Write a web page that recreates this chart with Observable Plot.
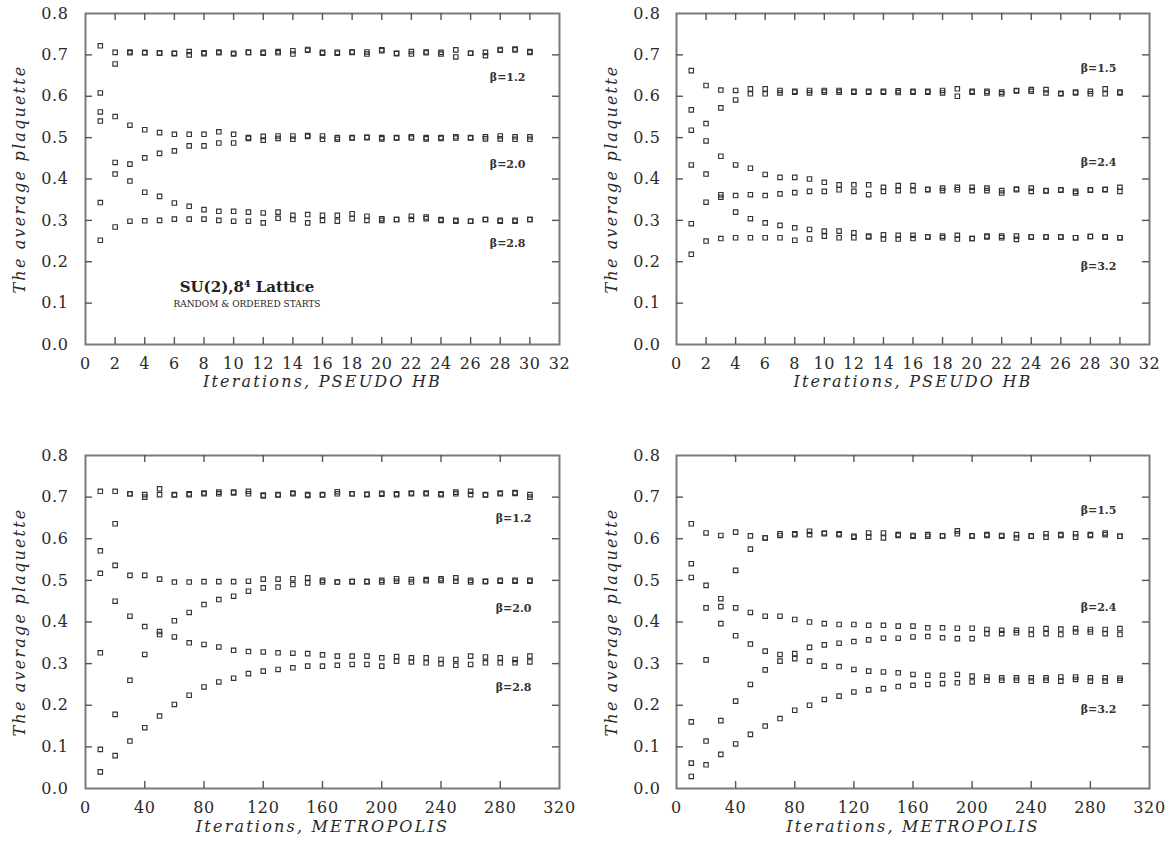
<!DOCTYPE html>
<html>
<head>
<meta charset="utf-8">
<script src="https://cdn.jsdelivr.net/npm/d3@7"></script>
<script src="https://cdn.jsdelivr.net/npm/@observablehq/plot@0.6"></script>
<style>
  html, body { margin: 0; padding: 0; background: #fff; }
  #wrap { position: relative; width: 1174px; height: 846px; background: #fff; }
  .panel { position: absolute; }
  g[aria-label="x-axis tick label"] text, g[aria-label="y-axis tick label"] text { letter-spacing: 0.6px; }
</style>
</head>
<body>
<div id="wrap"></div>
<script>
// ---------- iterations ----------
const hbIter = [1,2,3,4,5,6,7,8,9,10,11,12,13,14,15,16,17,18,19,20,21,22,23,24,25,26,27,28,29,30];
const metIter = [10,20,30,40,50,60,70,80,90,100,110,120,130,140,150,160,170,180,190,200,210,220,230,240,250,260,270,280,290,300];

// ---------- tick labels ----------
const hbTicks = [0,2,4,6,8,10,12,14,16,18,20,22,24,26,28,30,32];
const metTicks = [0,40,80,120,160,200,240,280,320];
const yTicks = [0,0.1,0.2,0.3,0.4,0.5,0.6,0.7,0.8];

// ---------- pseudo heat-bath, beta = 1.2 / 2.0 / 2.8 ----------
const hbA_b12_ord  = [0.722,0.706,0.707,0.706,0.705,0.703,0.708,0.703,0.705,0.702,0.706,0.706,0.708,0.710,0.713,0.706,0.706,0.707,0.702,0.712,0.703,0.708,0.707,0.706,0.712,0.704,0.706,0.713,0.714,0.708];
const hbA_b12_rand = [0.608,0.678,0.705,0.705,0.704,0.704,0.700,0.705,0.707,0.704,0.706,0.704,0.705,0.702,0.711,0.704,0.704,0.706,0.707,0.710,0.704,0.702,0.705,0.702,0.695,0.704,0.698,0.711,0.712,0.706];
const hbA_b20_ord  = [0.562,0.551,0.530,0.519,0.512,0.508,0.508,0.508,0.514,0.508,0.500,0.503,0.504,0.504,0.505,0.504,0.500,0.500,0.500,0.497,0.500,0.499,0.497,0.500,0.502,0.500,0.502,0.504,0.502,0.502];
const hbA_b20_rand = [0.343,0.440,0.436,0.451,0.462,0.468,0.480,0.480,0.487,0.487,0.498,0.494,0.498,0.496,0.503,0.496,0.496,0.499,0.501,0.500,0.499,0.502,0.500,0.498,0.499,0.499,0.497,0.497,0.496,0.496];
const hbA_b28_ord  = [0.540,0.412,0.395,0.368,0.358,0.342,0.334,0.326,0.322,0.322,0.320,0.318,0.320,0.312,0.314,0.312,0.312,0.316,0.310,0.304,0.302,0.310,0.308,0.302,0.300,0.298,0.302,0.300,0.300,0.302];
const hbA_b28_rand = [0.252,0.284,0.298,0.299,0.300,0.303,0.303,0.303,0.300,0.298,0.298,0.294,0.305,0.302,0.294,0.300,0.298,0.304,0.300,0.300,0.302,0.302,0.304,0.300,0.298,0.298,0.302,0.298,0.298,0.302];

// ---------- pseudo heat-bath, beta = 1.5 / 2.4 / 3.2 ----------
const hbB_b15_ord  = [0.662,0.626,0.615,0.614,0.618,0.618,0.614,0.612,0.614,0.614,0.614,0.612,0.612,0.612,0.613,0.612,0.612,0.614,0.618,0.612,0.612,0.610,0.614,0.616,0.616,0.607,0.610,0.612,0.618,0.610];
const hbB_b15_rand = [0.567,0.534,0.572,0.591,0.606,0.606,0.608,0.610,0.608,0.610,0.610,0.610,0.610,0.610,0.609,0.610,0.610,0.608,0.600,0.610,0.608,0.606,0.613,0.612,0.608,0.606,0.608,0.606,0.606,0.608];
const hbB_b24_ord  = [0.518,0.492,0.455,0.434,0.426,0.411,0.404,0.404,0.400,0.392,0.386,0.386,0.386,0.380,0.384,0.384,0.375,0.378,0.380,0.380,0.378,0.372,0.376,0.378,0.372,0.374,0.370,0.374,0.375,0.380];
const hbB_b24_rand = [0.292,0.344,0.356,0.360,0.362,0.360,0.364,0.367,0.370,0.370,0.374,0.370,0.362,0.370,0.372,0.372,0.374,0.372,0.374,0.372,0.372,0.366,0.374,0.370,0.371,0.373,0.366,0.373,0.374,0.370];
const hbB_b32_ord  = [0.434,0.412,0.362,0.320,0.304,0.294,0.288,0.282,0.278,0.274,0.274,0.270,0.262,0.265,0.264,0.264,0.260,0.262,0.264,0.256,0.262,0.262,0.262,0.260,0.260,0.260,0.258,0.261,0.260,0.258];
const hbB_b32_rand = [0.218,0.250,0.256,0.258,0.258,0.258,0.258,0.252,0.255,0.262,0.258,0.258,0.260,0.255,0.255,0.256,0.260,0.258,0.255,0.256,0.260,0.258,0.254,0.260,0.260,0.260,0.258,0.261,0.260,0.258];

// ---------- Metropolis, beta = 1.2 / 2.0 / 2.8 ----------
const mtA_b12_ord  = [0.714,0.714,0.708,0.706,0.720,0.706,0.708,0.710,0.712,0.710,0.714,0.703,0.706,0.710,0.704,0.705,0.713,0.708,0.707,0.709,0.708,0.710,0.710,0.708,0.712,0.714,0.705,0.710,0.711,0.706];
const mtA_b12_rand = [0.326,0.636,0.708,0.700,0.706,0.705,0.706,0.708,0.708,0.712,0.708,0.705,0.705,0.708,0.706,0.706,0.708,0.708,0.706,0.707,0.706,0.708,0.708,0.706,0.708,0.706,0.706,0.708,0.709,0.700];
const mtA_b20_ord  = [0.571,0.536,0.512,0.512,0.503,0.496,0.496,0.497,0.497,0.497,0.498,0.503,0.503,0.504,0.506,0.500,0.496,0.497,0.497,0.500,0.504,0.502,0.502,0.504,0.506,0.500,0.498,0.500,0.500,0.500];
const mtA_b20_rand = [0.094,0.178,0.260,0.322,0.377,0.403,0.423,0.442,0.454,0.462,0.474,0.482,0.484,0.490,0.494,0.496,0.496,0.497,0.497,0.496,0.498,0.496,0.499,0.500,0.498,0.496,0.497,0.498,0.498,0.498];
const mtA_b28_ord  = [0.517,0.450,0.414,0.389,0.370,0.364,0.350,0.346,0.340,0.332,0.329,0.328,0.326,0.325,0.324,0.321,0.318,0.318,0.318,0.314,0.317,0.314,0.314,0.310,0.310,0.318,0.316,0.314,0.310,0.318];
const mtA_b28_rand = [0.040,0.079,0.114,0.146,0.174,0.202,0.224,0.244,0.256,0.265,0.276,0.282,0.286,0.290,0.294,0.294,0.296,0.298,0.298,0.294,0.306,0.304,0.302,0.300,0.296,0.298,0.302,0.302,0.302,0.304];

// ---------- Metropolis, beta = 1.5 / 2.4 / 3.2 ----------
const mtB_b15_ord  = [0.636,0.614,0.608,0.616,0.607,0.602,0.612,0.612,0.618,0.614,0.612,0.606,0.614,0.614,0.610,0.608,0.610,0.607,0.619,0.607,0.610,0.608,0.610,0.607,0.612,0.610,0.612,0.610,0.614,0.606];
const mtB_b15_rand = [0.160,0.309,0.456,0.524,0.575,0.602,0.608,0.610,0.610,0.612,0.610,0.604,0.604,0.602,0.608,0.606,0.606,0.607,0.612,0.607,0.608,0.606,0.602,0.606,0.604,0.608,0.604,0.608,0.610,0.606];
const mtB_b24_ord  = [0.540,0.488,0.437,0.434,0.423,0.414,0.414,0.406,0.400,0.396,0.394,0.394,0.392,0.392,0.390,0.390,0.386,0.386,0.385,0.385,0.382,0.380,0.380,0.382,0.384,0.383,0.384,0.382,0.382,0.384];
const mtB_b24_rand = [0.061,0.114,0.163,0.210,0.250,0.285,0.306,0.324,0.339,0.345,0.349,0.353,0.357,0.361,0.361,0.364,0.365,0.362,0.360,0.360,0.372,0.372,0.374,0.370,0.372,0.370,0.376,0.376,0.372,0.370];
const mtB_b32_ord  = [0.507,0.434,0.396,0.367,0.347,0.330,0.322,0.312,0.306,0.294,0.293,0.286,0.282,0.280,0.278,0.274,0.272,0.272,0.274,0.270,0.268,0.266,0.266,0.266,0.266,0.268,0.268,0.266,0.266,0.265];
const mtB_b32_rand = [0.029,0.057,0.082,0.107,0.130,0.150,0.168,0.188,0.200,0.214,0.222,0.232,0.237,0.240,0.245,0.248,0.250,0.252,0.254,0.256,0.260,0.260,0.260,0.258,0.260,0.258,0.262,0.258,0.258,0.260];

// ---------- texts ----------
const yTitle = "The average plaquette";
const xTitleHB = "Iterations, PSEUDO HB";
const xTitleMet = "Iterations, METROPOLIS";
const betasA = ["\u03b2=1.2", "\u03b2=2.0", "\u03b2=2.8"];
const betasB = ["\u03b2=1.5", "\u03b2=2.4", "\u03b2=3.2"];
const titleMain = "SU(2),8\u2074 Lattice";
const titleSub = "RANDOM & ORDERED STARTS";

function rows(iters, series) {
  return series.flatMap(([name, vals]) => vals.map((v, i) => ({series: name, it: iters[i], p: v})));
}

const INK = "#2a2a2a";
const FRAME = "#7a7a7a";

function panel(cfg) {
  const W = 587, H = 423;
  const fw = W - cfg.ml - cfg.mr, fh = H - cfg.mt - cfg.mb;
  const innerX = cfg.xTicks.slice(1, -1);
  const innerY = yTicks.slice(1, -1);
  const tickStyle = {stroke: "#555", strokeWidth: 1.4};
  const marks = [
    Plot.frame({stroke: FRAME, strokeWidth: 2}),
    Plot.tickX(innerX, {x: d => d, insetTop: fh - 7, ...tickStyle}),
    Plot.tickX(innerX, {x: d => d, insetBottom: fh - 7, ...tickStyle}),
    Plot.tickY(innerY, {y: d => d, insetRight: fw - 7, ...tickStyle}),
    Plot.tickY(innerY, {y: d => d, insetLeft: fw - 7, ...tickStyle}),
    Plot.axisX(cfg.xTicks, {anchor: "bottom", tickSize: 0, tickPadding: 13, fontSize: 16, label: null, tickFormat: d => String(d), fill: INK}),
    Plot.axisY(yTicks, {anchor: "left", tickSize: 0, tickPadding: cfg.ypad, fontSize: 16, label: null, tickFormat: d3.format(".1f"), fill: INK}),
    Plot.dot(cfg.data, {x: "it", y: "p", symbol: "square", r: 2.5, stroke: "#333", strokeWidth: 1.15, fill: "none"}),
    Plot.text(cfg.betas, {x: cfg.betaX, y: (d, i) => cfg.betaY[i], text: d => d, fontSize: 11, fontWeight: "bold", fill: "#333"}),
    Plot.text([cfg.xTitle], {frameAnchor: "bottom", dy: cfg.xtdy, textAnchor: "middle", text: d => d, fontSize: 16, fontStyle: "italic", fill: INK}),
    Plot.text([yTitle], {frameAnchor: "left", dx: cfg.ytdx, textAnchor: "middle", rotate: -90, text: d => d, fontSize: 16, fontStyle: "italic", fill: INK})
  ];
  if (cfg.note) {
    marks.push(Plot.text([titleMain], {x: 10.9, y: 0.138, text: d => d, fontSize: 15, fontWeight: "bold", fill: "#222"}));
    marks.push(Plot.text([titleSub], {x: 10.9, y: 0.097, text: d => d, fontSize: 9, fill: "#222"}));
  }
  const svg = Plot.plot({
    width: W, height: H,
    marginLeft: cfg.ml, marginRight: cfg.mr, marginTop: cfg.mt, marginBottom: cfg.mb,
    x: {domain: cfg.xDomain},
    y: {domain: [0, 0.8]},
    style: {fontFamily: "'DejaVu Serif', serif", background: "#fff", color: INK},
    marks
  });
  d3.select(svg).selectAll("text")
    .filter(function() { return this.textContent === yTitle || this.textContent === cfg.xTitle; })
    .attr("letter-spacing", "2.2px");
  const div = document.createElement("div");
  div.className = "panel";
  div.style.left = cfg.left + "px";
  div.style.top = cfg.top + "px";
  div.appendChild(svg);
  document.getElementById("wrap").appendChild(div);
}

panel({
  left: 0, top: 0, ml: 85, mr: 28, mt: 13, mb: 79, ypad: 17, ytdx: -66, xtdy: 42,
  xDomain: [0, 32], xTicks: hbTicks, xTitle: xTitleHB, note: true,
  betas: betasA, betaX: 28.5, betaY: [0.645, 0.435, 0.244],
  data: rows(hbIter, [["b12o", hbA_b12_ord], ["b12r", hbA_b12_rand], ["b20o", hbA_b20_ord], ["b20r", hbA_b20_rand], ["b28o", hbA_b28_ord], ["b28r", hbA_b28_rand]])
});
panel({
  left: 587, top: 0, ml: 89, mr: 25, mt: 13, mb: 79, ypad: 16, ytdx: -65, xtdy: 42,
  xDomain: [0, 32], xTicks: hbTicks, xTitle: xTitleHB,
  betas: betasB, betaX: 28.55, betaY: [0.667, 0.44, 0.188],
  data: rows(hbIter, [["b15o", hbB_b15_ord], ["b15r", hbB_b15_rand], ["b24o", hbB_b24_ord], ["b24r", hbB_b24_rand], ["b32o", hbB_b32_ord], ["b32r", hbB_b32_rand]])
});
panel({
  left: 0, top: 423, ml: 85, mr: 28, mt: 32, mb: 58, ypad: 17, ytdx: -66, xtdy: 43,
  xDomain: [0, 320], xTicks: metTicks, xTitle: xTitleMet,
  betas: betasA, betaX: 289, betaY: [0.649, 0.432, 0.243],
  data: rows(metIter, [["b12o", mtA_b12_ord], ["b12r", mtA_b12_rand], ["b20o", mtA_b20_ord], ["b20r", mtA_b20_rand], ["b28o", mtA_b28_ord], ["b28r", mtA_b28_rand]])
});
panel({
  left: 587, top: 423, ml: 89, mr: 25, mt: 32, mb: 58, ypad: 16, ytdx: -65, xtdy: 43,
  xDomain: [0, 320], xTicks: metTicks, xTitle: xTitleMet,
  betas: betasB, betaX: 285.5, betaY: [0.668, 0.435, 0.19],
  data: rows(metIter, [["b15o", mtB_b15_ord], ["b15r", mtB_b15_rand], ["b24o", mtB_b24_ord], ["b24r", mtB_b24_rand], ["b32o", mtB_b32_ord], ["b32r", mtB_b32_rand]])
});
</script>
</body>
</html>
